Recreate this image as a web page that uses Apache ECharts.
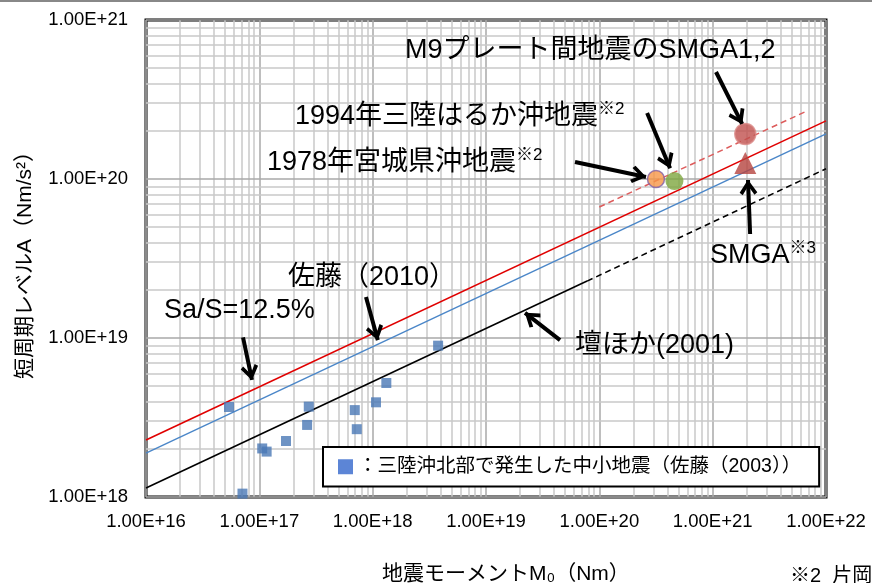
<!DOCTYPE html>
<html>
<head>
<meta charset="utf-8">
<style>
html, body { margin: 0; padding: 0; background: #fff; }
#chart { width: 872px; height: 583px; }
</style>
<script src="https://cdn.jsdelivr.net/npm/echarts@6/dist/echarts.min.js"></script>
</head>
<body>
<div id="chart"></div>
<script>
var FONT = "'Liberation Sans', Arial, 'Noto Sans CJK JP', 'DejaVu Sans', sans-serif";

// 三陸沖北部で発生した中小地震 (M0 [Nm], A [Nm/s2])
var smallM0 = [5.4e16, 7.1e16, 1.06e17, 1.16e17, 1.72e17, 2.64e17, 2.73e17, 6.95e17, 7.24e17, 1.07e18, 1.32e18, 3.78e18];
var smallA  = [3.68e18, 1.05e18, 2.02e18, 1.93e18, 2.25e18, 2.84e18, 3.70e18, 3.52e18, 2.67e18, 3.94e18, 5.21e18, 8.95e18];
var smallName = '：三陸沖北部で発生した中小地震（佐藤（2003））';

// 経験式
var fullM0     = [1e16, 1e22];
var sasA       = [2.28e18, 2.32e20];   // Sa/S=12.5%
var satoA      = [1.89e18, 1.92e20];   // 佐藤(2010)
var danM0      = [1e16, 7.8e19];       // 壇ほか(2001) 実線
var danA       = [1.14e18, 2.28e19];
var danExtM0   = [7.8e19, 1e22];       // 壇ほか(2001) 破線
var danExtA    = [2.28e19, 1.16e20];
var m9M0       = [1e20, 6.5e21];       // 赤破線
var m9A        = [6.67e19, 2.64e20];

// 個別の地震
var eventName = ['1978年宮城県沖地震', '1994年三陸はるか沖地震', 'M9プレート間地震のSMGA1,2', 'SMGA'];
var eventM0   = [3.16e20, 4.6e20, 1.94e21, 1.94e21];
var eventA    = [1.0e20, 9.7e19, 1.92e20, 1.26e20];

// 矢印 [M0 始点, A 始点, M0 先端, A 先端]
var arrows = [
  [1.07e21, 4.71e20, 1.82e21, 2.22e20],
  [2.64e20, 2.60e20, 4.21e20, 1.17e20],
  [6.10e19, 1.28e20, 2.58e20, 1.03e20],
  [2.14e21, 4.51e19, 2.05e21, 9.86e19],
  [8.73e17, 1.81e19, 1.11e18, 9.70e18],
  [7.18e16, 1.01e19, 8.61e16, 5.45e18],
  [4.50e19, 9.70e18, 2.21e19, 1.44e19]
];

var xTicks = [1e16, 1e17, 1e18, 1e19, 1e20, 1e21, 1e22];
var yTicks = [1e18, 1e19, 1e20, 1e21];

function pairs(xs, ys) {
  var out = [];
  for (var i = 0; i < xs.length; i++) out.push([xs[i], ys[i]]);
  return out;
}

// 目盛線 (主・補助)
var gridLines = [];
function addGrid(ticks, key) {
  for (var i = 0; i < ticks.length; i++) {
    var o = {}; o[key] = ticks[i];
    o.lineStyle = { color: '#a8a8a8', width: 1.5, type: 'solid' };
    gridLines.push(o);
    if (i < ticks.length - 1) {
      for (var k = 2; k <= 9; k++) {
        var m = {}; m[key] = ticks[i] * k;
        m.lineStyle = { color: '#c8c8c8', width: 1.5, type: 'solid' };
        gridLines.push(m);
      }
    }
  }
}
addGrid(xTicks, 'xAxis');
addGrid(yTicks, 'yAxis');

var chevron = 'path://M0,-15L0.01,-15L0,-15ZM0,0L9,13L6,15.5L0,6.5L-6,15.5L-9,13Z';
var arrowData = arrows.map(function (a) {
  return [{ coord: [a[0], a[1]] }, { coord: [a[2], a[3]] }];
});

var eventStyle = [
  { symbol: 'circle', symbolSize: 17, itemStyle: { color: '#f79646', borderColor: '#7f5fa8', borderWidth: 1.5 } },
  { symbol: 'circle', symbolSize: 18, itemStyle: { color: '#7ea63f' } },
  { symbol: 'circle', symbolSize: 21, itemStyle: { color: '#c0504d', borderColor: '#d98886', borderWidth: 1.5 } },
  { symbol: 'triangle', symbolSize: 22, itemStyle: { color: '#b5433f' } }
];
var eventData = eventM0.map(function (m, i) {
  var s = eventStyle[i];
  return { name: eventName[i], value: [m, eventA[i]], symbol: s.symbol, symbolSize: s.symbolSize, itemStyle: s.itemStyle };
});

function expLabel(v) {
  return Number(v).toExponential(2).toUpperCase();
}

var chart = echarts.init(document.getElementById('chart'));

function txt(x, y, main, sup) {
  var t = '{a|' + main + '}' + (sup ? '{b|' + sup + '}' : '');
  return {
    type: 'text', x: x, y: y, z: 50,
    style: {
      text: t, verticalAlign: 'middle', align: 'left',
      rich: {
        a: { fontFamily: FONT, fontSize: 27, fill: '#000', color: '#000', lineHeight: 32 },
        b: { fontFamily: FONT, fontSize: 17, fill: '#000', color: '#000', verticalAlign: 'top', lineHeight: 20 }
      }
    }
  };
}

var option = {
  animation: false,
  backgroundColor: '#fff',
  grid: {
    left: 146, right: 46, top: 20, bottom: 86,
    show: true, borderColor: '#000', borderWidth: 3, backgroundColor: 'transparent'
  },
  legend: {
    left: 323, top: 447, z: 20,
    data: [{ name: smallName, icon: 'rect', itemStyle: { color: '#3366cc' } }],
    itemWidth: 15, itemHeight: 15,
    backgroundColor: '#fff', borderColor: '#000', borderWidth: 2, borderRadius: 0,
    padding: [10, 18, 10, 15],
    selectedMode: false,
    textStyle: { fontFamily: FONT, fontSize: 19.5, color: '#000' }
  },
  xAxis: {
    type: 'log', logBase: 10, min: 1e16, max: 1e22,
    axisLine: { show: true, lineStyle: { color: '#333', width: 2 } },
    axisTick: { show: false },
    splitLine: { show: false },
    axisLabel: { formatter: expLabel, fontFamily: FONT, fontSize: 18.5, color: '#000', margin: 16, showMaxLabel: true, showMinLabel: true }
  },
  yAxis: {
    type: 'log', logBase: 10, min: 1e18, max: 1e21,
    axisLine: { show: true, lineStyle: { color: '#333', width: 2 } },
    axisTick: { show: false },
    splitLine: { show: false },
    axisLabel: { formatter: expLabel, fontFamily: FONT, fontSize: 18.5, color: '#000', margin: 18 }
  },
  series: [
    {
      name: 'grid', type: 'scatter', data: [], z: 1, silent: true,
      markLine: { z: 1, silent: true, symbol: ['none', 'none'], label: { show: false }, animation: false, data: gridLines }
    },
    { name: 'Sa/S=12.5%', type: 'line', data: pairs(fullM0, sasA), showSymbol: false, symbol: 'none', z: 3,
      lineStyle: { color: '#e00000', width: 1.6 } },
    { name: '佐藤(2010)', type: 'line', data: pairs(fullM0, satoA), showSymbol: false, symbol: 'none', z: 3,
      lineStyle: { color: '#4a86c8', width: 1.4 } },
    { name: '壇ほか(2001)', type: 'line', data: pairs(danM0, danA), showSymbol: false, symbol: 'none', z: 3,
      lineStyle: { color: '#000', width: 1.6 } },
    { name: '壇ほか(2001) 外挿', type: 'line', data: pairs(danExtM0, danExtA), showSymbol: false, symbol: 'none', z: 3,
      lineStyle: { color: '#000', width: 1.5, type: [6, 4] } },
    { name: 'M9', type: 'line', data: pairs(m9M0, m9A), showSymbol: false, symbol: 'none', z: 3,
      lineStyle: { color: '#dd5c5c', width: 1.5, type: [6, 4] } },
    { name: smallName, type: 'scatter', data: pairs(smallM0, smallA), symbol: 'rect', symbolSize: 10, z: 4,
      itemStyle: { color: '#4a78b5' } },
    { name: 'events', type: 'scatter', data: eventData, z: 5 },
    {
      name: 'arrows', type: 'scatter', data: [], z: 6, silent: true,
      markLine: {
        z: 30, silent: true, animation: false,
        symbol: ['none', chevron], symbolSize: [18, 30], symbolKeepAspect: true,
        label: { show: false },
        lineStyle: { color: '#000', width: 4, type: 'solid' },
        data: arrowData
      }
    }
  ],
  graphic: [
    { type: 'line', shape: { x1: 0, y1: 1, x2: 872, y2: 1 }, style: { stroke: '#888', lineWidth: 2 }, z: 50 },
    { type: 'text', x: 382, y: 574, z: 50,
      style: { text: '地震モーメントM₀（Nm）', font: '21px ' + FONT, fill: '#000', verticalAlign: 'middle', align: 'left' } },
    { type: 'text', x: 25, y: 260, rotation: Math.PI / 2, z: 50,
      style: { text: '短周期レベルA（Nm/s²）', font: '21px ' + FONT, fill: '#000', verticalAlign: 'middle', align: 'center' } },
    txt(405, 51, 'M9プレート間地震のSMGA1,2'),
    txt(295, 117, '1994年三陸はるか沖地震', '※2'),
    txt(267, 163, '1978年宮城県沖地震', '※2'),
    txt(710, 256, 'SMGA', '※3'),
    txt(288, 278, '佐藤（2010）'),
    txt(164, 311, 'Sa/S=12.5%'),
    txt(575, 346, '壇ほか(2001)'),
    { type: 'text', x: 790, y: 576, z: 50,
      style: { text: '※2  片岡正次郎', font: '20px ' + FONT, fill: '#000', verticalAlign: 'middle' } }
  ]
};

chart.setOption(option);
</script>
</body>
</html>
